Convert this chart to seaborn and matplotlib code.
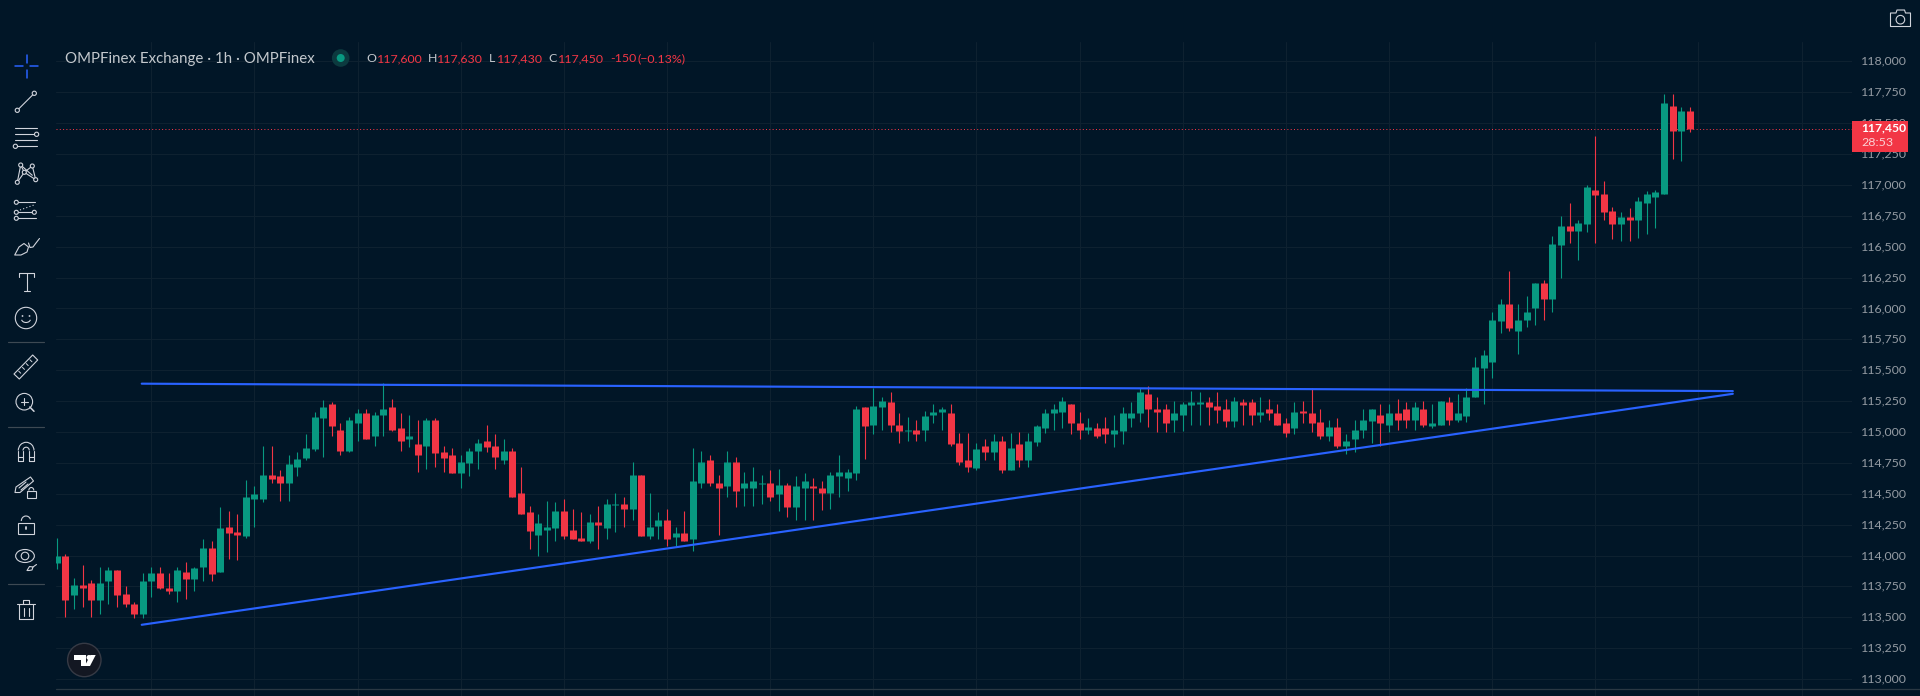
import numpy as np
import pandas as pd
import matplotlib
matplotlib.use("Agg")
import matplotlib.pyplot as plt
from matplotlib.patches import Circle, Ellipse, Polygon, Rectangle, Arc
import seaborn as sns

opens = [
113940,114000,113680,113760,113780,113640,113790,113880,113690,113610,
113530,113790,113860,113740,113710,113870,113810,113910,114060,113870,
114230,114190,114160,114460,114460,114650,114640,114590,114720,114790,
114860,115110,115230,115020,114850,115070,115150,114970,115140,115200,
115030,114940,114900,114890,115100,114840,114810,114670,114750,114850,
114930,114890,114770,114850,114510,114350,114170,114210,114220,114360,
114210,114140,114120,114270,114220,114410,114420,114380,114650,114160,
114240,114290,114150,114180,114130,114590,114770,114590,114560,114760,
114550,114550,114580,114590,114500,114570,114390,114550,114560,114550,
114510,114640,114630,114670,115200,115060,115200,115240,115060,115010,
115020,115020,115140,115160,115150,114910,114770,114710,114890,114840,
114930,114690,114900,114770,114920,115030,115150,115160,115230,115070,
115020,115030,115030,114980,115010,115110,115150,115310,115190,115190,
115100,115140,115220,115230,115240,115210,115190,115090,115240,115240,
115140,115190,115150,115070,115030,115170,115150,115080,114970,115040,
114890,114940,115020,115090,115140,115060,115150,115190,115100,115190,
115050,115060,115240,115100,115130,115280,115520,115570,115900,116040,
115820,115910,116000,116210,116080,116510,116670,116630,116680,116960,
116930,116790,116680,116740,116720,116850,116900,116930,117640,117440,117600]

closes = [
114000,113640,113760,113740,113640,113780,113880,113680,113610,113530,
113790,113860,113740,113710,113880,113810,113900,114060,113850,114220,
114180,114170,114470,114500,114650,114620,114590,114740,114780,114870,
115120,115200,115050,114850,115100,115150,114940,115140,115190,115020,
114930,114970,114810,115100,114830,114790,114670,114760,114850,114910,
114880,114800,114850,114470,114340,114200,114260,114230,114360,114160,
114130,114120,114270,114250,114420,114420,114380,114650,114160,114230,
114290,114130,114180,114120,114600,114760,114590,114550,114760,114520,
114590,114600,114590,114470,114570,114390,114560,114600,114550,114510,
114650,114680,114680,115190,115050,115210,115250,115060,115010,115020,
114980,115130,115160,115190,114900,114760,114720,114860,114840,114930,
114690,114870,114770,114930,115050,115150,115190,115250,115070,115020,
115040,114970,114980,115020,115150,115150,115320,115190,115160,115070,
115150,115230,115240,115240,115200,115180,115090,115250,115220,115140,
115160,115150,115060,114990,115160,115150,115070,114970,115040,114890,
114930,115020,115100,115190,115070,115150,115100,115100,115200,115060,
115070,115250,115100,115150,115280,115530,115620,115910,116040,115840,
115910,115970,116210,116080,116520,116670,116630,116690,116980,116920,
116780,116680,116740,116720,116870,116930,116940,117660,117440,117600,117450]

highs = [
114140,114010,113820,113920,113800,113910,113910,113880,113750,113620,
113860,113910,113910,113860,113910,113950,113910,114130,114120,114390,
114360,114340,114610,114560,114890,114890,114690,114810,114840,114980,
115160,115260,115240,115070,115120,115190,115190,115160,115400,115270,
115150,115140,115100,115110,115110,114890,114870,114810,114870,114940,
115060,114980,114940,114870,114720,114400,114340,114440,114430,114460,
114380,114350,114340,114400,114460,114510,114470,114760,114650,114510,
114350,114380,114230,114360,114870,114850,114810,114650,114850,114800,
114680,114720,114650,114690,114700,114590,114640,114670,114630,114600,
114680,114810,114700,115210,115200,115360,115280,115320,115150,115120,
115100,115170,115230,115200,115230,114990,114990,114910,114940,114980,
114970,114990,115000,114990,115060,115190,115230,115280,115230,115160,
115110,115070,115120,115140,115200,115240,115360,115370,115280,115230,
115250,115240,115330,115320,115280,115320,115270,115280,115270,115270,
115280,115270,115230,115110,115240,115250,115360,115190,115100,115110,
114980,115100,115190,115190,115230,115230,115270,115240,115240,115250,
115230,115250,115280,115310,115360,115610,115660,115970,116080,116300,
116040,116100,116210,116230,116590,116750,116850,116720,117000,117400,
117030,116820,116780,116810,116900,116950,116960,117740,117740,117630,117630]

lows = [
113890,113500,113570,113580,113500,113530,113610,113580,113580,113490,
113490,113660,113730,113690,113620,113650,113710,113790,113790,113870,
113970,113960,114140,114230,114430,114590,114440,114440,114640,114770,
114850,114800,114970,114810,114840,114930,114940,114890,114970,115010,
114850,114880,114680,114700,114720,114680,114670,114550,114640,114700,
114840,114700,114740,114470,114340,114050,114000,114030,114120,114130,
114130,114120,114100,114050,114130,114190,114230,114290,114160,114130,
114130,114080,114080,114120,114040,114550,114560,114170,114470,114390,
114400,114400,114420,114440,114360,114310,114290,114290,114290,114370,
114380,114470,114520,114610,114780,114980,115020,115000,114910,114930,
114930,114930,115070,115020,114890,114730,114680,114690,114770,114770,
114670,114690,114720,114720,114890,114990,115020,115030,114980,114940,
114980,114950,114910,114880,114900,115040,115080,115040,115000,115000,
115000,115010,115060,115060,115060,115070,115040,115040,115060,115060,
115080,115100,115060,114960,114980,115070,115000,114940,114930,114870,
114820,114840,114950,114910,114890,115000,115020,115030,115020,115040,
115030,115060,115060,115080,115080,115280,115230,115440,115800,115820,
115630,115850,115870,115910,115970,116250,116530,116390,116620,116530,
116720,116560,116550,116550,116570,116600,116650,116930,117210,117190,117430]

resistance_x = [9.88, 195.0]
resistance_y = [115391, 115331]
support_x = [9.88, 195.0]
support_y = [113439, 115309]

price_ticks = list(range(113000, 118001, 250))
time_ticks = list(range(11, 204, 12))
legend_title = "OMPFinex Exchange · 1h · OMPFinex"

BG = "#011627"
GRID = "#0e2130"
UP = "#089981"
DOWN = "#f23645"
BLUE = "#2962ff"
LABEL = "#949ba3"
ICON = "#d1d4dc"
W, H = 1920, 696

sns.set_theme(style="dark", rc={"figure.facecolor": BG, "axes.facecolor": BG,
                                "savefig.facecolor": BG, "axes.grid": True,
                                "ytick.alignment": "center"})
plt.rcParams["font.family"] = ["Lato", "DejaVu Sans"]

idx = np.arange(len(opens))
direction = np.where(np.array(closes) >= np.array(opens), "up", "down")
wicks = pd.DataFrame({"bar": np.r_[idx, idx], "price": lows + highs, "dir": np.r_[direction, direction]})
bodies = pd.DataFrame({"bar": np.r_[idx, idx], "price": opens + closes, "dir": np.r_[direction, direction]})
palette = {"up": UP, "down": DOWN}

fig = plt.figure(figsize=(W / 100, H / 100), dpi=100)
ax_left, ax_right, ax_top, ax_bottom = 56, 1852, 42, 696
ax = fig.add_axes([ax_left / W, 1 - ax_bottom / H, (ax_right - ax_left) / W, (ax_bottom - ax_top) / H])

px_per_bar = 8.595
x0 = 56.8
px_per_price = 0.12352
y_ref = 92.3
ax.set_xlim((ax_left - x0) / px_per_bar, (ax_right - x0) / px_per_bar)
ax.set_ylim(117750 - (ax_bottom - y_ref) / px_per_price, 117750 + (y_ref - ax_top) / px_per_price)

sns.lineplot(data=wicks, x="bar", y="price", hue="dir", units="bar", estimator=None, sort=False,
             palette=palette, legend=False, ax=ax, linewidth=0.8, solid_capstyle="butt", zorder=3)
sns.lineplot(data=bodies, x="bar", y="price", hue="dir", units="bar", estimator=None, sort=False,
             palette=palette, legend=False, ax=ax, linewidth=5.04, solid_capstyle="butt", zorder=4)
sns.lineplot(x=resistance_x, y=resistance_y, color=BLUE, linewidth=1.55, ax=ax, zorder=5, clip_on=False)
sns.lineplot(x=support_x, y=support_y, color=BLUE, linewidth=1.55, ax=ax, zorder=5, clip_on=False)
ax.axhline(closes[-1], color=DOWN, linewidth=0.72, linestyle=(0, (1, 2.3)), zorder=2)

ax.set_xlabel(""); ax.set_ylabel("")
ax.set_xticks(time_ticks); ax.set_xticklabels([])
ax.set_yticks(price_ticks)
ax.set_yticklabels([f"{p:,}" for p in price_ticks])
ax.yaxis.tick_right()
ax.tick_params(axis="y", length=0, pad=6.4, labelsize=8.9, labelcolor=LABEL)
ax.tick_params(axis="x", length=0)
ax.grid(True, color=GRID, linewidth=0.8, zorder=0)
for s in ax.spines.values():
    s.set_visible(False)

ov = fig.add_axes([0, 0, 1, 1], zorder=10)
ov.set_xlim(0, W); ov.set_ylim(H, 0); ov.axis("off"); ov.patch.set_alpha(0)

def stroke(xs, ys, color=ICON, lw=0.8, **kw):
    ov.plot(xs, ys, color=color, lw=lw, solid_capstyle="round", **kw)

def node(x, y, r=2.1):
    ov.add_patch(Circle((x, y), r, fc=BG, ec=ICON, lw=0.8, zorder=5))

def shape(pts, fc="none", ec=ICON, lw=0.8):
    ov.add_patch(Polygon(pts, closed=True, fc=fc, ec=ec, lw=lw, joinstyle="round"))

# separator above the time axis
stroke([56, W], [689, 689], color="#2a3843", lw=0.9)

# legend
def legend_text(x, s, color, size=8.9):
    ov.text(x, 58.5, s, color=color, fontsize=size, va="center", ha="left")

legend_text(65, legend_title, "#c3c8cd", size=10.85)
ov.add_patch(Circle((340.7, 58), 8.8, fc="#0c3a3f", ec="none"))
ov.add_patch(Circle((340.7, 58), 4, fc=UP, ec="none"))
for x, s, c in [(366, "O", "#c3c8cd"), (377, "117,600", DOWN), (427.5, "H", "#c3c8cd"), (437, "117,630", DOWN),
                (489, "L", "#c3c8cd"), (497, "117,430", DOWN), (548, "C", "#c3c8cd"), (558, "117,450", DOWN),
                (610, "-150", DOWN), (638, "(−0.13%)", DOWN)]:
    legend_text(x, s, c)

# last-price tag
ov.add_patch(Rectangle((1852, 121), 56, 31, fc=DOWN, ec="none"))
ov.text(1861, 128, f"{closes[-1]:,}", color="white", fontsize=8.7, fontweight="bold", va="center", ha="left")
ov.text(1861, 142.5, "28:53", color="#fbd0d4", fontsize=8.9, va="center", ha="left")

# camera
shape([(1890.5, 13), (1896, 13), (1897, 10), (1904.5, 10), (1905.5, 13), (1910.5, 13), (1910.5, 26.5), (1890.5, 26.5)])
ov.add_patch(Circle((1900.4, 19.7), 4.3, fc="none", ec=ICON, lw=0.8))

# toolbar: crosshair
for xs, ys in [([15, 23], [66, 66]), ([30, 38], [66, 66]), ([26.5, 26.5], [55, 63]), ([26.5, 26.5], [70, 78])]:
    stroke(xs, ys, color=BLUE, lw=1.1)
# trend line
stroke([17.3, 34.3], [110.3, 93.3]); node(17.3, 110.3); node(34.3, 93.3)
# parallel channel
for y, a, b in [(128, 15, 37), (134.3, 15, 35), (140, 15, 37), (146.3, 17, 37)]:
    stroke([a, b], [y, y])
node(36.6, 134.3); node(15.4, 146.3)
# pattern
pts = [(17.3, 182.3), (20.7, 165), (24.3, 172.3), (32.3, 166), (35.7, 179.7)]
stroke([p[0] for p in pts], [p[1] for p in pts])
stroke([20.7, 32.3], [165, 175.3]); stroke([17.3, 24.3], [182.3, 172.3]); stroke([24.3, 35.7], [172.3, 179.7])
for p in pts:
    node(p[0], p[1], 2)
# forecast
stroke([17, 35], [202.3, 202.3]); stroke([17, 34], [212.3, 212.3]); stroke([17, 36], [218.3, 218.3])
stroke([20, 34], [210, 205], linestyle=(0, (1, 2)))
for p in [(16.3, 202.3), (16.3, 212.3), (16.3, 218.3), (34.3, 212.3)]:
    node(p[0], p[1], 2)
# brush
shape([(14.7, 255), (19, 247), (24, 243.5), (28.5, 247), (27, 252), (21, 255)])
stroke([28.5, 30, 33, 36, 39.5], [243, 247.5, 247, 243, 238.5])
# text tool
stroke([19, 34.3], [273.3, 273.3]); stroke([26.5, 26.5], [273.3, 290.7]); stroke([23.5, 29.5], [290.7, 290.7])
stroke([19, 19], [273.3, 276.5]); stroke([34.3, 34.3], [273.3, 276.5])
# smiley
ov.add_patch(Circle((26, 318), 10.7, fc="none", ec=ICON, lw=0.8))
ov.add_patch(Circle((22.5, 316), 0.9, fc=ICON, ec="none"))
ov.add_patch(Circle((29.5, 316), 0.9, fc=ICON, ec="none"))
ov.add_patch(Arc((26, 319), 9, 7, theta1=10, theta2=170, ec=ICON, lw=0.8))
for y in (342.3, 427.3, 584.3):
    stroke([8, 44], [y, y], color="#3d4953", lw=0.85)
# ruler
shape([(14, 374), (32.7, 355), (37.7, 360), (19.3, 379)])
for t in (0.2, 0.4, 0.6, 0.8):
    stroke([14 + 18.7 * t + 1, 14 + 18.7 * t + 3], [374 - 19 * t + 1, 374 - 19 * t + 3], lw=0.7)
# zoom
ov.add_patch(Circle((24.3, 401.7), 8.3, fc="none", ec=ICON, lw=0.8))
stroke([24.3, 24.3], [398, 405.4]); stroke([20.6, 28], [401.7, 401.7]); stroke([29.8, 34], [407, 411.3], lw=1.1)
# magnet
stroke([18.3, 18.3], [460.7, 450.5]); stroke([34, 34], [460.7, 450.5])
ov.add_patch(Arc((26.15, 450.5), 15.7, 16.4, theta1=180, theta2=360, ec=ICON, lw=0.8))
stroke([23, 23], [460.7, 450.5]); stroke([29.3, 29.3], [460.7, 450.5])
ov.add_patch(Arc((26.15, 450.5), 6.3, 6.6, theta1=180, theta2=360, ec=ICON, lw=0.8))
stroke([18.3, 23], [460.7, 460.7]); stroke([29.3, 34], [460.7, 460.7])
stroke([18.3, 23], [456.7, 456.7]); stroke([29.3, 34], [456.7, 456.7])
# pencil with lock
shape([(15, 492.5), (16, 487), (30.5, 477), (33.5, 481), (20, 492.5)])
stroke([19, 26], [488, 482]); stroke([21, 28], [490, 484])
ov.add_patch(Rectangle((27.3, 491), 8.4, 6.8, fc=BG, ec=ICON, lw=0.8))
ov.add_patch(Arc((31.3, 490.5), 5, 6, theta1=180, theta2=360, ec=ICON, lw=0.8))
# open lock
ov.add_patch(Rectangle((18.3, 522.7), 15.7, 11, fc="none", ec=ICON, lw=0.8))
ov.add_patch(Arc((26, 521), 9.4, 10, theta1=180, theta2=340, ec=ICON, lw=0.8))
stroke([26, 26], [526.5, 529], lw=1.3)
# eye
ov.add_patch(Ellipse((25, 556), 18.7, 13, fc="none", ec=ICON, lw=0.8))
ov.add_patch(Circle((25, 556), 3.8, fc="none", ec=ICON, lw=0.8))
shape([(27, 570.5), (29.5, 566.5), (33, 567), (32, 570), (29, 570.5)])
stroke([33, 36.5], [567, 564.5])
# trash
stroke([17.3, 35], [604, 604]); stroke([19.3, 19.3, 32.7, 32.7], [604, 618.7, 618.7, 604])
stroke([22.7, 22.7, 29.3, 29.3], [604, 600.3, 600.3, 604])
stroke([23.5, 23.5], [608, 616]); stroke([28.5, 28.5], [608, 616])

# attribution logo
ov.add_patch(Circle((84.3, 660), 16.7, fc="#131722", ec="#363a45", lw=1))
shape([(74, 655), (86, 655), (86, 666), (81, 666), (81, 660), (74, 660)], fc="white", ec="none")
ov.add_patch(Circle((89, 657.5), 2.5, fc="white", ec="none"))
shape([(90.5, 655), (95.7, 655), (90, 666), (84.7, 666)], fc="white", ec="none")

fig.savefig("out.png", dpi=100, facecolor=BG)
